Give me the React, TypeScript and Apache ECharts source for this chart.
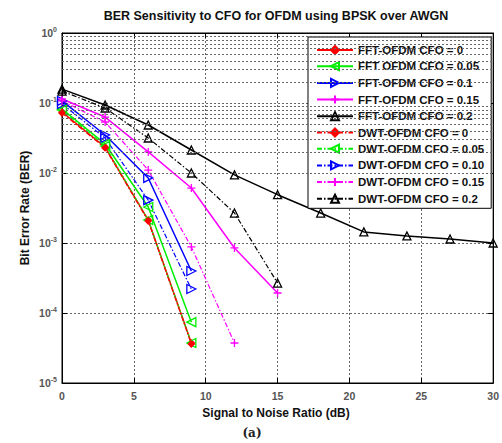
import React, { useEffect, useRef } from "react";
import * as echarts from "echarts";

// SNR points (dB)
const snrFull = [0, 3, 6, 9, 12, 15, 18, 21, 24, 27, 30];

// BER values
const fft0 = [0.0744, 0.0235, 0.00213, 3.73e-5];
const fft005 = [0.082, 0.026, 0.00327, 7.4e-5];
const fft01 = [0.107, 0.0349, 0.0085, 3.98e-4];
const fft015 = [0.114, 0.063, 0.02, 0.0061, 8.5e-4, 1.93e-4];
const fft02 = [0.158, 0.0936, 0.0485, 0.0213, 0.0094, 0.0049, 0.00268, 0.00144, 0.00126, 0.00114, 0.001];
const dwt0 = [0.072, 0.0228, 0.00206, 3.6e-5];
const dwt005 = [0.0794, 0.0243, 0.00213, 3.73e-5];
const dwt010 = [0.0968, 0.0316, 0.0041, 2.2e-4];
const dwt015 = [0.107, 0.0535, 0.011, 8.8e-4, 3.73e-5];
const dwt02 = [0.148, 0.0848, 0.0316, 0.01, 0.00268, 2.68e-4];

const names = [
  "FFT-OFDM CFO = 0",
  "FFT OFDM CFO = 0.05",
  "FFT-OFDM CFO = 0.1",
  "FFT-OFDM CFO = 0.15",
  "FFT-OFDM CFO = 0.2",
  "DWT-OFDM CFO = 0",
  "DWT-OFDM CFO = 0.05",
  "DWT-OFDM CFO = 0.10",
  "DWT-OFDM CFO = 0.15",
  "DWT-OFDM CFO = 0.2",
];

const xTicks = [0, 5, 10, 15, 20, 25, 30];
const decades = [-5, -4, -3, -2, -1];
const minorMult = [2, 3, 4, 5, 6, 7, 8, 9];

const FONT = "'Liberation Sans', Arial, sans-serif";
const PLUS = "path://M5,0L5,10M0,5L10,5";

export default function App() {
  const ref = useRef<HTMLDivElement>(null);

  useEffect(() => {
    document.body.style.margin = "0";
    const chart = echarts.init(ref.current!, undefined, { renderer: "svg" });

    const zip = (vals: number[]) => vals.map((v, i) => [snrFull[i], v]);
    const dashDot = [5, 2, 1.5, 2];

    const mk = (
      name: string,
      vals: number[],
      color: string,
      dashed: boolean,
      symbol: string,
      symbolSize: number,
      symbolRotate: number,
      filled: boolean,
      z: number
    ) => ({
      type: "line",
      name,
      data: zip(vals),
      z,
      symbol,
      symbolSize,
      symbolRotate,
      showAllSymbol: true,
      lineStyle: { color, width: dashed ? 1.2 : 1.5, type: dashed ? dashDot : "solid" },
      itemStyle: {
        color: filled ? color : "none",
        borderColor: color,
        borderWidth: 1.3,
      },
      emphasis: { disabled: true },
    });

    const minorY: number[] = [];
    decades.forEach((d) => minorMult.forEach((m) => minorY.push(m * Math.pow(10, d))));

    const gridLine = { color: "#666", type: [2, 2], width: 1 };

    chart.setOption({
      animation: false,
      textStyle: { fontFamily: FONT },
      grid: {
        left: 62,
        right: 8,
        top: 33,
        bottom: 60,
        show: true,
        borderColor: "#000",
        borderWidth: 1,
        backgroundColor: "#fff",
      },
      legend: {
        data: names,
        orient: "vertical",
        left: 308,
        top: 37,
        itemWidth: 36,
        itemHeight: 10,
        itemGap: 3.7,
        padding: [7, 7, 3, 8],
        backgroundColor: "#fff",
        borderColor: "#000",
        borderWidth: 1,
        borderRadius: 0,
        textStyle: { fontFamily: FONT, fontSize: 11.5, lineHeight: 12, fontWeight: "bold", color: "#111" },
      },
      xAxis: [
        {
          type: "value",
          min: 0,
          max: 30,
          interval: 5,
          axisLine: { show: true, onZero: false, lineStyle: { color: "#000", width: 1 } },
          axisTick: { show: true, inside: true, length: 5, lineStyle: { color: "#000" } },
          axisLabel: {
            margin: 7,
            fontSize: 10.5,
            fontWeight: "bold",
            color: "#555",
            fontFamily: FONT,
            customValues: xTicks,
          },
          splitLine: { show: true, lineStyle: gridLine },
        },
        {
          type: "value",
          position: "top",
          min: 0,
          max: 30,
          interval: 5,
          axisLine: { show: true, onZero: false, lineStyle: { color: "#000" } },
          axisTick: { show: true, inside: true, length: 5, lineStyle: { color: "#000" } },
          axisLabel: { show: false },
          splitLine: { show: false },
        },
      ],
      yAxis: [
        {
          type: "log",
          logBase: 10,
          min: 1e-5,
          max: 1,
          splitNumber: 5,
          axisLine: { show: true, onZero: false, lineStyle: { color: "#000", width: 1 } },
          axisTick: { show: true, inside: true, length: 5, lineStyle: { color: "#000" } },
          axisLabel: {
            margin: 5,
            formatter: (v: number) => `{b|10}{s|${Math.round(Math.log10(v))}}`,
            rich: {
              b: { fontSize: 10.5, fontWeight: "bold", color: "#555", fontFamily: FONT },
              s: { fontSize: 7, fontWeight: "bold", color: "#555", fontFamily: FONT, padding: [0, 0, 8, 0] },
            },
          },
          splitLine: { show: true, lineStyle: gridLine },
        },
        {
          type: "log",
          logBase: 10,
          position: "right",
          min: 1e-5,
          max: 1,
          splitNumber: 5,
          axisLine: { show: true, onZero: false, lineStyle: { color: "#000" } },
          axisTick: { show: true, inside: true, length: 5, lineStyle: { color: "#000" } },
          axisLabel: { show: false },
          splitLine: { show: false },
        },
      ],
      graphic: [
        {
          type: "text",
          x: 276,
          y: 16,
          style: {
            text: "BER Sensitivity to CFO for OFDM using BPSK over AWGN",
            fontSize: 12.5,
            fontWeight: "bold",
            fontFamily: FONT,
            fill: "#111",
            align: "center",
            textAlign: "center",
            verticalAlign: "middle",
            textVerticalAlign: "middle",
          },
        },
        {
          type: "text",
          x: 25,
          y: 208,
          rotation: Math.PI / 2,
          style: {
            text: "Bit Error Rate (BER)",
            fontSize: 12,
            fontWeight: "bold",
            fontFamily: FONT,
            fill: "#111",
            align: "center",
            textAlign: "center",
            verticalAlign: "middle",
            textVerticalAlign: "middle",
          },
        },
        {
          type: "text",
          x: 276,
          y: 413,
          style: {
            text: "Signal to Noise Ratio (dB)",
            fontSize: 12,
            fontWeight: "bold",
            fontFamily: FONT,
            fill: "#111",
            align: "center",
            textAlign: "center",
            verticalAlign: "middle",
            textVerticalAlign: "middle",
          },
        },
        {
          type: "text",
          x: 252,
          y: 433,
          style: {
            text: "(a)",
            fontSize: 12,
            fontWeight: "bold",
            fontFamily: "'DejaVu Serif', 'Liberation Serif', serif",
            fill: "#222",
            align: "center",
            textAlign: "center",
            verticalAlign: "middle",
            textVerticalAlign: "middle",
          },
        },
      ],
      series: [
        {
          type: "line",
          name: "minor-grid",
          data: [],
          silent: true,
          z: 1,
          markLine: {
            silent: true,
            symbol: ["none", "none"],
            label: { show: false },
            lineStyle: gridLine,
            emphasis: { disabled: true },
            data: minorY.map((v) => ({ yAxis: v })),
          },
        },
        mk(names[0], fft0, "#ff0000", false, "diamond", 6, 0, true, 3),
        mk(names[1], fft005, "#00ee00", false, "triangle", 9, 90, false, 3),
        mk(names[2], fft01, "#0000ff", false, "triangle", 9, -90, false, 3),
        mk(names[3], fft015, "#ff00ff", false, PLUS, 8, 0, false, 3),
        mk(names[4], fft02, "#000000", false, "triangle", 8, 0, false, 3),
        mk(names[5], dwt0, "#ff0000", true, "diamond", 6, 0, true, 5),
        mk(names[6], dwt005, "#00ee00", true, "triangle", 9, 90, false, 4),
        mk(names[7], dwt010, "#0000ff", true, "triangle", 9, -90, false, 3),
        mk(names[8], dwt015, "#ff00ff", true, PLUS, 8, 0, false, 3),
        mk(names[9], dwt02, "#000000", true, "triangle", 8, 0, false, 3),
      ],
    });

    return () => chart.dispose();
  }, []);

  return (
    <div
      ref={ref}
      style={{ position: "fixed", left: 0, top: 0, width: 502, height: 443, background: "#fff" }}
    />
  );
}
